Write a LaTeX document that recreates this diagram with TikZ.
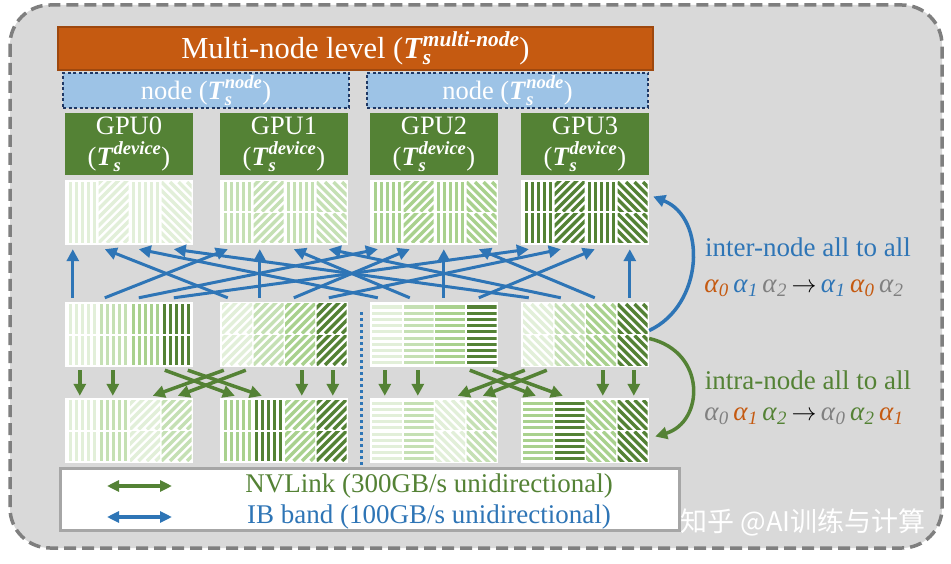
\documentclass[tikz,border=0pt]{standalone}
\usepackage{amsmath}
\usepackage{fontspec}
\setmainfont{Liberation Serif}
\newfontfamily\cjkfont{Noto Sans CJK SC}
\usetikzlibrary{arrows.meta,positioning}

\definecolor{bggray}{HTML}{D9D9D9}
\definecolor{framegray}{HTML}{7F7F7F}
\definecolor{legendgray}{HTML}{A6A6A6}
\definecolor{multiorange}{HTML}{C55A11}
\definecolor{multiedge}{HTML}{9E480E}
\definecolor{nodeblue}{HTML}{9DC3E6}
\definecolor{navy}{HTML}{1F3864}
\definecolor{gpugreen}{HTML}{548235}
\definecolor{ibblue}{HTML}{2E75B6}
\definecolor{alphagray}{HTML}{808080}
\definecolor{shadeA}{HTML}{E2EFD9}
\definecolor{shadeB}{HTML}{C5E0B4}
\definecolor{shadeC}{HTML}{A9D18E}
\definecolor{shadeD}{HTML}{548235}

\newcommand{\Ts}[1]{$\textbf{\textit{T}}_{\textbf{\textit{s}}}^{\textbf{\textit{#1}}}$}
\newcommand{\alphasub}[2]{\textcolor{#1}{\textit{α}\textsubscript{\textit{#2}}}}

% one striped cell: left, top, height, kind (0 | 1 / 2 - 3 \), colour
\newcommand{\stripecell}[5]{%
  \begin{scope}
    \clip (#1,#2) rectangle ++(30,#3);
    \ifcase#4
      \foreach \st in {0,...,4} \fill[#5] ({#1+1.5+\st*6},{#2}) rectangle ++(3.2,#3);
    \or
      \foreach \st in {-9,...,5} \draw[#5,line width=3.2pt] ({#1+\st*8.5},{#2+#3}) -- ++(#3+10,-#3-10);
    \or
      \foreach \st in {0,...,4} \fill[#5] ({#1},{#2+1.5+\st*6}) rectangle ++(30,3.2);
    \or
      \foreach \st in {-9,...,5} \draw[#5,line width=3.2pt] ({#1+\st*8.5},{#2}) -- ++(#3+10,#3+10);
    \fi
  \end{scope}}

% four columns of cells in one block: left, top, rows, kind/colour list
\newcommand{\stripeblock}[4]{%
  \foreach \kd/\cl [count=\cc from 0] in {#4} {
    \ifnum#3=1
      \stripecell{#1+2+\cc*31.5}{#2+2}{61}{\kd}{\cl}
    \else
      \stripecell{#1+2+\cc*31.5}{#2+2}{29.5}{\kd}{\cl}
      \stripecell{#1+2+\cc*31.5}{#2+33.5}{29.5}{\kd}{\cl}
    \fi}}

\begin{document}
\begin{tikzpicture}[x=1pt,y=-1pt,
  titlebox/.style={fill=multiorange, draw=multiedge, line width=1.5pt, text=white, minimum width=595pt, minimum height=43pt, inner sep=0pt, font=\fontsize{30.5}{32}\selectfont},
  nodebox/.style={fill=nodeblue, draw=navy, line width=2.5pt, dash pattern=on 3pt off 2.5pt, text=white, minimum height=35pt, inner sep=0pt, font=\fontsize{26.5}{28}\selectfont},
  gpubox/.style={fill=gpugreen, text=white, minimum width=128pt, minimum height=62pt, inner sep=0pt, align=center, font=\fontsize{26.5}{31}\selectfont},
  blockbox/.style={fill=white, minimum width=128pt, minimum height=65pt, inner sep=0pt},
  ibarrow/.style={draw=ibblue, line width=3pt, -{Triangle[length=12pt,width=12pt]}},
  nvarrow/.style={draw=gpugreen, line width=3.5pt, -{Triangle[length=12pt,width=12pt]}},
  labeltext/.style={font=\fontsize{27}{28}\selectfont, inner sep=0pt}]

\useasboundingbox (0,0) rectangle (951,564);
\draw[fill=bggray, draw=framegray, line width=3.5pt, dash pattern=on 12pt off 6pt, rounded corners=40pt] (10,5) rectangle (942,548);

\node[titlebox] (multi) at (355.5,48.5) {Multi-node level (\Ts{multi-node})};
\node[nodebox, minimum width=286pt] (nodeA) at (206,90.5) {node (\Ts{node})};
\node[nodebox, minimum width=281pt] (nodeB) at (507.5,90.5) {node (\Ts{node})};

\node[gpubox] (gpu0) at (129,144) {GPU0\\(\Ts{device})};
\node[gpubox] (gpu1) at (284,144) {GPU1\\(\Ts{device})};
\node[gpubox] (gpu2) at (434,144) {GPU2\\(\Ts{device})};
\node[gpubox] (gpu3) at (585,144) {GPU3\\(\Ts{device})};

\node[blockbox] (top0) at (129,212.5) {};
\node[blockbox] (top1) at (284,212.5) {};
\node[blockbox] (top2) at (434,212.5) {};
\node[blockbox] (top3) at (585,212.5) {};
\node[blockbox] (mid0) at (129,334.5) {};
\node[blockbox] (mid1) at (284,334.5) {};
\node[blockbox] (mid2) at (434,334.5) {};
\node[blockbox] (mid3) at (585,334.5) {};
\node[blockbox] (bot0) at (129,430.5) {};
\node[blockbox] (bot1) at (284,430.5) {};
\node[blockbox] (bot2) at (434,430.5) {};
\node[blockbox] (bot3) at (585,430.5) {};

\stripeblock{65}{180}{1}{0/shadeA,1/shadeA,0/shadeA,3/shadeA}
\stripeblock{220}{180}{2}{0/shadeB,1/shadeB,0/shadeB,3/shadeB}
\stripeblock{370}{180}{2}{0/shadeC,1/shadeC,0/shadeC,3/shadeC}
\stripeblock{521}{180}{2}{0/shadeD,1/shadeD,0/shadeD,3/shadeD}

\stripeblock{65}{302}{2}{0/shadeA,0/shadeB,0/shadeC,0/shadeD}
\stripeblock{220}{302}{2}{1/shadeA,1/shadeB,1/shadeC,1/shadeD}
\stripeblock{370}{302}{2}{2/shadeA,2/shadeB,2/shadeC,2/shadeD}
\stripeblock{521}{302}{2}{3/shadeA,3/shadeB,3/shadeC,3/shadeD}

\stripeblock{65}{398}{2}{0/shadeA,0/shadeB,1/shadeA,1/shadeB}
\stripeblock{220}{398}{2}{0/shadeC,0/shadeD,1/shadeC,1/shadeD}
\stripeblock{370}{398}{2}{2/shadeA,2/shadeB,3/shadeA,3/shadeB}
\stripeblock{521}{398}{2}{2/shadeC,2/shadeD,3/shadeC,3/shadeD}

\foreach \i/\oi in {0/8,1/40,2/74,3/109}
  \foreach \j/\oj in {0/8,1/40,2/74,3/109}
    \draw[ibarrow] ([xshift=\oj pt,yshift=4pt]mid\i.north west) -- ([xshift=\oi pt,yshift=-4pt]top\j.south west);

\foreach \b/\bb in {0/1,2/3} {
  \draw[nvarrow] ([xshift=15pt,yshift=-3pt]mid\b.south west) -- ([xshift=15pt,yshift=2pt]bot\b.north west);
  \draw[nvarrow] ([xshift=48pt,yshift=-3pt]mid\b.south west) -- ([xshift=48pt,yshift=2pt]bot\b.north west);
  \draw[nvarrow] ([xshift=82pt,yshift=-3pt]mid\bb.south west) -- ([xshift=82pt,yshift=2pt]bot\bb.north west);
  \draw[nvarrow] ([xshift=113pt,yshift=-3pt]mid\bb.south west) -- ([xshift=113pt,yshift=2pt]bot\bb.north west);
  \draw[nvarrow] ([xshift=100pt,yshift=-3pt]mid\b.south west) -- ([xshift=15pt,yshift=2pt]bot\bb.north west);
  \draw[nvarrow] ([xshift=123pt,yshift=-3pt]mid\b.south west) -- ([xshift=42pt,yshift=2pt]bot\bb.north west);
  \draw[nvarrow] ([xshift=4pt,yshift=-3pt]mid\bb.south west) -- ([xshift=88pt,yshift=2pt]bot\b.north west);
  \draw[nvarrow] ([xshift=26pt,yshift=-3pt]mid\bb.south west) -- ([xshift=113pt,yshift=2pt]bot\b.north west);
}

\draw[ibblue, line width=3pt, dash pattern=on 3pt off 3pt] (361,312) -- (361,466);

\draw[ibarrow, line width=3.5pt] ([yshift=4pt]mid3.east) .. controls (704,305) and (707,218) .. ([xshift=4pt,yshift=16pt]top3.east);
\draw[nvarrow] ([yshift=-4pt]mid3.east) .. controls (707,352) and (704,422) .. ([xshift=6pt,yshift=-6pt]bot3.east);

\node[labeltext, text=ibblue] (interlbl) at (808,247) {inter-node all to all};
\node[labeltext] (interform) at (804,288) {\alphasub{multiorange}{0}\,\alphasub{ibblue}{1}\,\alphasub{alphagray}{2}\,$\rightarrow$\,\alphasub{ibblue}{1}\,\alphasub{multiorange}{0}\,\alphasub{alphagray}{2}};
\node[labeltext, text=gpugreen] (intralbl) at (808,380) {intra-node all to all};
\node[labeltext] (intraform) at (804,416) {\alphasub{alphagray}{0}\,\alphasub{multiorange}{1}\,\alphasub{gpugreen}{2}\,$\rightarrow$\,\alphasub{alphagray}{0}\,\alphasub{gpugreen}{2}\,\alphasub{multiorange}{1}};

\node[draw=legendgray, line width=3pt, fill=white, minimum width=619pt, minimum height=62pt, inner sep=0pt] (legend) at (369.5,499) {};
\coordinate (nvleft) at (107,486);
\coordinate (nvright) at (172,486);
\coordinate (ibleft) at (107,517);
\coordinate (ibright) at (172,517);
\draw[draw=gpugreen, line width=3.5pt, {Triangle[length=12pt,width=11pt]}-{Triangle[length=12pt,width=11pt]}] (nvleft) -- (nvright);
\draw[draw=ibblue, line width=3.5pt, {Triangle[length=12pt,width=11pt]}-{Triangle[length=12pt,width=11pt]}] (ibleft) -- (ibright);
\node[labeltext, text=gpugreen] (nvtext) at (429,486) {NVLink (300GB/s unidirectional)};
\node[labeltext, text=ibblue] (ibtext) at (429,517) {IB band (100GB/s unidirectional)};

\node[text=white, inner sep=0pt, font=\cjkfont\fontsize{27}{27}\selectfont] (mark) at (803,522) {知乎 @AI训练与计算};
\end{tikzpicture}
\end{document}
